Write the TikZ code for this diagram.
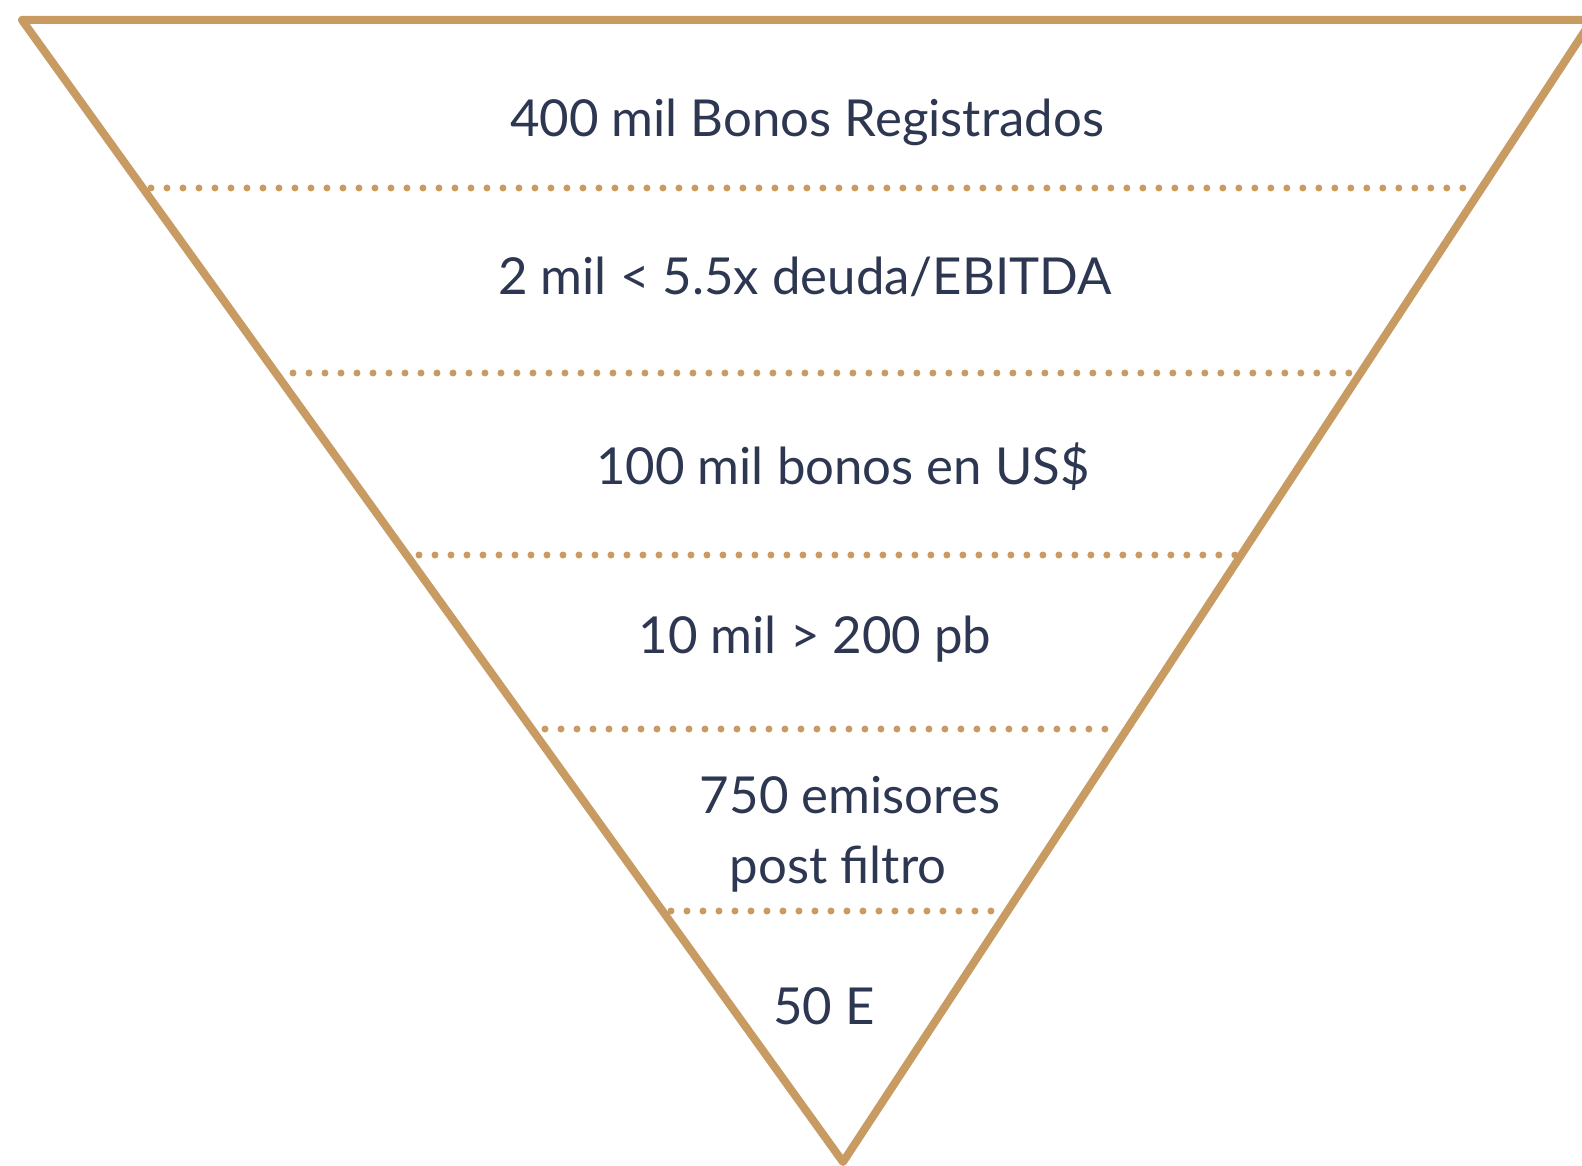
\documentclass[tikz,border=0pt]{standalone}
\usepackage{fontspec}
\setmainfont{Lato}
\usepackage{tikz}

\definecolor{gold}{RGB}{200,155,98}
\definecolor{navy}{RGB}{45,55,82}

\tikzset{
  funnel/.style={gold,line width=0.16cm,line join=round,line cap=round},
  sep/.style={gold,line width=0.14cm,line cap=round,dash pattern=on 0pt off 0.32cm},
  lbl/.style={navy,font=\fontsize{29}{34}\selectfont,inner sep=0pt}
}

\begin{document}
\begin{tikzpicture}[x=0.02cm,y=-0.02cm]
    \useasboundingbox (0,0) rectangle (1582,1166);
    \clip (0,0) rectangle (1582,1166);

    \coordinate (tl) at (22,20);
    \coordinate (tr) at (1592,20);
    \coordinate (apex) at (843,1162);
    \draw [funnel] (tr)--(tl)--(apex)--cycle;

    \draw [sep] (151,188)--(1478,188);
    \draw [sep] (293,373)--(1352,373);
    \draw [sep] (419,555)--(1236,555);
    \draw [sep] (545,729)--(1110,729);
    \draw [sep] (671,911)--(994,911);

    \node [lbl] (t1) at (807,122) {400 mil Bonos Registrados};
    \node [lbl] (t2) at (805,277) {2 mil < 5.5x deuda/EBITDA};
    \node [lbl] (t3) at (843,467) {100 mil bonos en US\$};
    \node [lbl] (t4) at (815,639) {10 mil > 200 pb};
    \node [lbl] (t5) at (850,795) {750 emisores};
    \node [lbl] (t5b) at (838,869) {post filtro};
    \node [lbl] (t6) at (824,1006) {50 E};
\end{tikzpicture}
\end{document}
